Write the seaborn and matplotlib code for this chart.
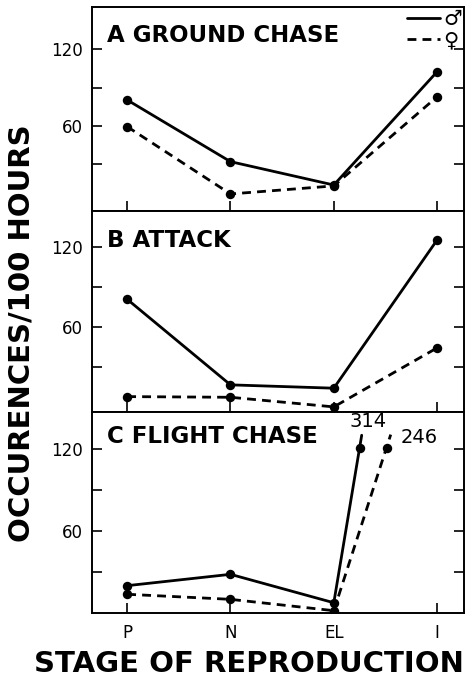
import matplotlib
matplotlib.use("Agg")
import matplotlib.pyplot as plt
import seaborn as sns
import pandas as pd
from matplotlib.lines import Line2D

# values (occurrences per 100 hours)
stages = ["P", "N", "EL", "I"]
titles = ["A GROUND CHASE", "B ATTACK", "C FLIGHT CHASE"]
ground_male = [80.4, 32.1, 13.8, 102.5]
ground_female = [59.5, 6.8, 13.1, 82.9]
attack_male = [80.6, 16.5, 14.0, 125.0]
attack_female = [7.7, 7.2, 0.0, 44.2]
flight_male = [20.0, 28.3, 7.5, 314.0]
flight_female = [13.7, 10.0, 1.7, 246.0]

# off-scale flight chase values are drawn at the cap, part way to "I"
flight_cap = 121
flight_break_x = [2.25, 2.51]

sns.set_theme(style="ticks")
plt.rcParams["font.family"] = ["DejaVu Sans"]
for key in ["text.color", "axes.labelcolor", "xtick.color", "ytick.color",
            "axes.edgecolor"]:
    plt.rcParams[key] = "black"

fig = plt.figure(figsize=(4.67, 6.8), dpi=100)
W, H = 467, 680
left, right = 91.7, 464
# panel pixel bounds (top, bottom) and y limits
bounds = [(7.3, 210.7), (210.7, 411.7), (411.7, 613)]
ylims = [(-6.3, 152.9), (-3.6, 146.9), (0, 147.3)]
title_y = [0.831, 0.821, 0.843]

series = [
    (ground_male, ground_female),
    (attack_male, attack_female),
    (flight_male, flight_female),
]

solid = dict(color="black", linewidth=2.0, marker="o", markersize=6.8,
             markeredgewidth=0)
dashed = dict(solid, linestyle=(0, (3.2, 2.2)))

axes = []
for i, (top, bot) in enumerate(bounds):
    ax = fig.add_axes([left / W, 1 - bot / H, (right - left) / W, (bot - top) / H])
    axes.append(ax)
    male, female = series[i]
    x = list(range(len(stages)))
    if i < 2:
        df = pd.DataFrame({"x": x, "male": male, "female": female})
        sns.lineplot(data=df, x="x", y="male", ax=ax, **solid)
        sns.lineplot(data=df, x="x", y="female", ax=ax, **dashed)
    else:
        for vals, bx, style in [(male, flight_break_x[0], solid),
                                (female, flight_break_x[1], dashed)]:
            df = pd.DataFrame({"x": x[:3], "y": vals[:3]})
            sns.lineplot(data=df, x="x", y="y", ax=ax, **style)
            # run toward the off-scale point, a little past the cap
            x0, y0 = x[2], vals[2]
            ext = 1.08
            ax.plot([x0, x0 + (bx - x0) * ext],
                    [y0, y0 + (flight_cap - y0) * ext],
                    **dict(style, marker=None))
            ax.plot([bx], [flight_cap], **dict(style, linestyle="none"))
        ax.text(2.33, 140, f"{flight_male[3]:.0f}", ha="center", va="center",
                fontsize=14)
        ax.text(2.83, 128.7, f"{flight_female[3]:.0f}", ha="center",
                va="center", fontsize=14)

    ax.set_xlim(-0.343, 3.26)
    ax.set_ylim(*ylims[i])
    ax.set_xticks(range(len(stages)))
    ax.set_yticks([30, 60, 90, 120])
    ax.set_yticklabels(["", "60", "", "120"])
    ax.set_xlabel("")
    ax.set_ylabel("")
    if i < 2:
        ax.set_xticklabels([])
    else:
        ax.set_xticklabels(stages)
    ax.tick_params(axis="both", direction="in", length=7, width=1.2,
                   labelsize=12, colors="black")
    ax.tick_params(axis="y", right=True, pad=6)
    ax.tick_params(axis="x", pad=8)
    for s in ax.spines.values():
        s.set_linewidth(1.4)
        s.set_color("black")
    ax.text(0.042, title_y[i], titles[i], transform=ax.transAxes,
            fontsize=16.5, fontweight="bold", va="baseline", ha="left")

handles = [Line2D([], [], color="black", linewidth=2.0),
           Line2D([], [], color="black", linewidth=2.0, linestyle=(0, (3.2, 2.2)))]
axes[0].legend(handles, ["\u2642", "\u2640"], loc="upper right",
               bbox_to_anchor=(1.0, 1.0), frameon=False, fontsize=15,
               handlelength=1.6, handletextpad=0.15, labelspacing=0.05,
               borderpad=0.05, borderaxespad=0.05)

fig.text(249 / W, 1 - 672 / H, "STAGE OF REPRODUCTION", ha="center",
         va="baseline", fontsize=21, fontweight="bold")
fig.text(22 / W, 1 - 333 / H, "OCCURENCES/100 HOURS", ha="center",
         va="center", rotation=90, fontsize=21, fontweight="bold")

fig.savefig("out.png", dpi=100, facecolor="white")
